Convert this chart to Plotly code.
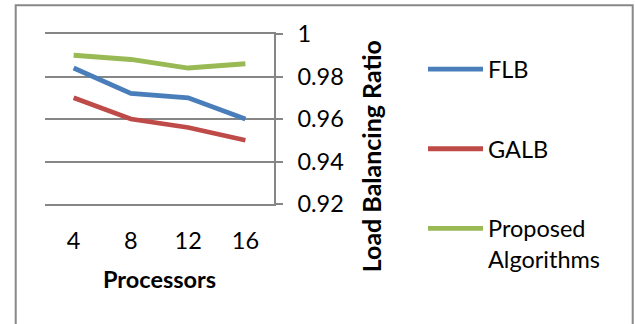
import plotly.graph_objects as go

processors = ["4", "8", "12", "16"]
flb = [0.984, 0.972, 0.970, 0.960]
galb = [0.970, 0.960, 0.956, 0.950]
proposed = [0.990, 0.988, 0.984, 0.986]
y_ticks = [0.92, 0.94, 0.96, 0.98, 1.0]
y_tick_text = ["0.92", "0.94", "0.96", "0.98", "1"]

FONT = "Lato"
GRID = "#868686"
FS = 23.5

fig = go.Figure()
series = [
    ("FLB", flb, "#4A7EBB"),
    ("GALB", galb, "#BE4B48"),
    ("Proposed<br>Algorithms", proposed, "#98B954"),
]
for i, (name, vals, col) in enumerate(series):
    fig.add_trace(go.Scatter(
        x=processors, y=vals, name=name, mode="lines",
        line=dict(color=col, width=4.8), legendgroup=f"g{i}",
    ))

L, T = 45, 33.5
PW, PH = 229, 171

fig.update_layout(
    width=635, height=324,
    margin=dict(l=L, r=635 - L - PW, t=T, b=324 - T - PH, pad=0),
    paper_bgcolor="white", plot_bgcolor="white",
    font=dict(family=FONT, size=FS, color="black"),
    showlegend=True,
    legend=dict(
        x=(423 - L) / PW, y=(T + PH - 47) / PH, xanchor="left", yanchor="top",
        tracegroupgap=46, valign="top", font=dict(size=FS),
        bgcolor="rgba(0,0,0,0)", itemwidth=55, maxheight=300,
    ),
    xaxis=dict(
        type="category", showgrid=False, zeroline=False,
        showline=True, mirror=True, linecolor=GRID, linewidth=1.5,
        ticks="", ticklabelstandoff=15, range=[-0.5, 3.5],
    ),
    yaxis=dict(
        side="right", range=[0.92, 1.0], tickvals=y_ticks, ticktext=y_tick_text,
        showgrid=True, gridcolor=GRID, gridwidth=1.5,
        showline=True, linecolor=GRID, linewidth=1.5, mirror=False,
        ticks="outside", ticklen=7, tickcolor=GRID, tickwidth=1.5,
        zeroline=False, ticklabelstandoff=10,
    ),
)

fig.add_annotation(
    text="<b>Load Balancing Ratio</b>", textangle=-90,
    xref="paper", yref="paper", x=(371 - L) / PW, y=(T + PH - 156.5) / PH,
    xanchor="center", yanchor="middle", showarrow=False, font=dict(size=25),
)
fig.add_annotation(
    text="<b>Processors</b>",
    xref="paper", yref="paper", x=(159 - L) / PW, y=(T + PH - 280) / PH,
    xanchor="center", yanchor="middle", showarrow=False, font=dict(size=FS),
)
fig.add_shape(
    type="rect", xref="paper", yref="paper",
    x0=(15.7 - L) / PW, x1=(632.7 - L) / PW,
    y0=-2, y1=(T + PH - 4.7) / PH,
    line=dict(color="#888888", width=2), layer="below",
)

fig.write_html(
    "out.html",
    config={"displayModeBar": False},
    post_script="document.body.style.margin='0';document.body.style.overflow='hidden';",
)
